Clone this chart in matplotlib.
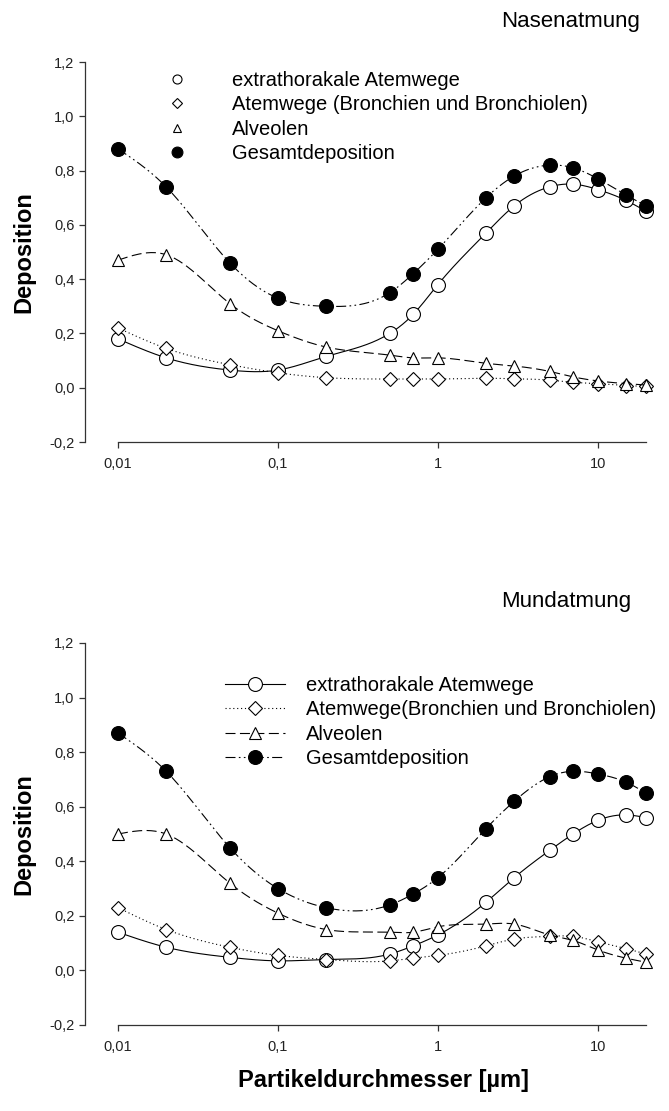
import numpy as np
import matplotlib.pyplot as plt
from matplotlib.lines import Line2D
from matplotlib.ticker import NullLocator

plt.rcParams['font.family'] = ['Liberation Sans', 'DejaVu Sans']

# Partikeldurchmesser in µm
durchmesser = [0.01, 0.02, 0.05, 0.1, 0.2, 0.5, 0.7, 1, 2, 3, 5, 7, 10, 15, 20]

# Nasenatmung
nase_extra = [0.18, 0.11, 0.065, 0.065, 0.115, 0.20, 0.27, 0.38, 0.57, 0.67, 0.74, 0.75, 0.73, 0.69, 0.65]
nase_atemwege = [0.22, 0.145, 0.085, 0.055, 0.037, 0.032, 0.032, 0.032, 0.035, 0.033, 0.028, 0.02, 0.015, 0.008, 0.005]
nase_alveolen = [0.47, 0.49, 0.31, 0.21, 0.15, 0.12, 0.11, 0.11, 0.09, 0.08, 0.06, 0.04, 0.025, 0.015, 0.01]
nase_gesamt = [0.88, 0.74, 0.46, 0.33, 0.30, 0.35, 0.42, 0.51, 0.70, 0.78, 0.82, 0.81, 0.77, 0.71, 0.67]

# Mundatmung
mund_extra = [0.14, 0.085, 0.048, 0.035, 0.04, 0.06, 0.09, 0.13, 0.25, 0.34, 0.44, 0.50, 0.55, 0.57, 0.56]
mund_atemwege = [0.23, 0.15, 0.085, 0.055, 0.04, 0.035, 0.045, 0.055, 0.09, 0.115, 0.125, 0.125, 0.105, 0.08, 0.06]
mund_alveolen = [0.50, 0.50, 0.32, 0.21, 0.15, 0.14, 0.14, 0.16, 0.17, 0.17, 0.13, 0.11, 0.075, 0.045, 0.03]
mund_gesamt = [0.87, 0.73, 0.45, 0.30, 0.23, 0.24, 0.28, 0.34, 0.52, 0.62, 0.71, 0.73, 0.72, 0.69, 0.65]

x_ticks = [0.01, 0.1, 1, 10]
x_labels = ['0,01', '0,1', '1', '10']
y_ticks = [-0.2, 0.0, 0.2, 0.4, 0.6, 0.8, 1.0, 1.2]
y_labels = ['-0,2', '0,0', '0,2', '0,4', '0,6', '0,8', '1,0', '1,2']

# (marker, size, fill, linestyle, legend marker size)
stile = [
    ('o', 10, 'white', '-', 6.5),
    ('D', 7.5, 'white', (0, (1, 2.5)), 5.6),
    ('^', 9, 'white', (0, (9, 4)), 5.8),
    ('o', 10, 'black', (0, (9, 3, 1.5, 3, 1.5, 3)), 7.8),
]


def spline_kurve(x, y, n=400):
    # natuerlicher kubischer Spline in log10(x)
    lx = np.log10(x)
    y = np.asarray(y, float)
    k = len(lx)
    h = np.diff(lx)
    A = np.zeros((k, k))
    b = np.zeros(k)
    A[0, 0] = A[-1, -1] = 1
    for i in range(1, k - 1):
        A[i, i - 1] = h[i - 1]
        A[i, i] = 2 * (h[i - 1] + h[i])
        A[i, i + 1] = h[i]
        b[i] = 6 * ((y[i + 1] - y[i]) / h[i] - (y[i] - y[i - 1]) / h[i - 1])
    M = np.linalg.solve(A, b)
    xs = np.linspace(lx[0], lx[-1], n)
    j = np.clip(np.searchsorted(lx, xs) - 1, 0, k - 2)
    t0, t1 = lx[j], lx[j + 1]
    hh = t1 - t0
    a = (t1 - xs) / hh
    c = (xs - t0) / hh
    ys = a * y[j] + c * y[j + 1] + ((a**3 - a) * M[j] + (c**3 - c) * M[j + 1]) * hh**2 / 6
    return 10**xs, ys


def achsen(ax):
    ax.set_xscale('log')
    ax.set_xlim(0.00622, 20)
    ax.set_ylim(-0.2, 1.2)
    ax.spines[['top', 'right']].set_visible(False)
    ax.spines['bottom'].set_bounds(0.01, 20)
    for s in ['left', 'bottom']:
        ax.spines[s].set_color('#333333')
        ax.spines[s].set_linewidth(0.9)
    ax.set_xticks(x_ticks)
    ax.set_xticklabels(x_labels)
    ax.xaxis.set_minor_locator(NullLocator())
    ax.set_yticks(y_ticks)
    ax.set_yticklabels(y_labels)
    ax.tick_params(direction='out', length=4, width=0.9, colors='#333333',
                   labelcolor='#222222', labelsize=10.5)
    ax.tick_params(axis='x', pad=7)
    ax.tick_params(axis='y', pad=3.5)


def zeichnen(ax, reihen):
    for i, (werte, (m, ms, fc, ls, _)) in enumerate(zip(reihen, stile)):
        xs, ys = spline_kurve(durchmesser, werte)
        ax.plot(xs, ys, color='black', lw=0.8, ls=ls, zorder=2 + 2 * i, clip_on=False)
        ax.plot(durchmesser, werte, ls='none', marker=m, ms=ms, mfc=fc, mec='black',
                mew=0.8, zorder=3 + 2 * i, clip_on=False)


fig = plt.figure(figsize=(6.69, 11.11), dpi=100)
ax1 = fig.add_axes([85 / 669, 1 - 442 / 1111, 561 / 669, 380 / 1111])
ax2 = fig.add_axes([85 / 669, 1 - 1025 / 1111, 561 / 669, 382 / 1111])

achsen(ax1)
achsen(ax2)
zeichnen(ax1, [nase_extra, nase_atemwege, nase_alveolen, nase_gesamt])
zeichnen(ax2, [mund_extra, mund_atemwege, mund_alveolen, mund_gesamt])

# Legende oben: nur Symbole
namen_oben = ['extrathorakale Atemwege', 'Atemwege (Bronchien und Bronchiolen)',
              'Alveolen', 'Gesamtdeposition']
griffe_oben = [Line2D([], [], ls='none', marker=m, ms=lms, mfc=fc, mec='black', mew=0.8)
               for (m, ms, fc, ls, lms) in stile]
ax1.legend(griffe_oben, namen_oben, loc='upper left', bbox_to_anchor=(167 / 669, 1 - 71 / 1111),
           bbox_transform=fig.transFigure, frameon=False, fontsize=14.5, handlelength=1.0,
           handletextpad=2.25, labelspacing=0.27, borderpad=0, borderaxespad=0)

# Legende unten: Linie mit Symbol
namen_unten = ['extrathorakale Atemwege', 'Atemwege(Bronchien und Bronchiolen)',
               'Alveolen', 'Gesamtdeposition']
griffe_unten = [Line2D([], [], color='black', lw=0.8, ls=ls, marker=m, ms=ms, mfc=fc,
                       mec='black', mew=0.8)
                for (m, ms, fc, ls, lms) in stile]
ax2.legend(griffe_unten, namen_unten, loc='upper left', bbox_to_anchor=(225 / 669, 1 - 676 / 1111),
           bbox_transform=fig.transFigure, frameon=False, fontsize=14.5, handlelength=3.0,
           handletextpad=1.0, labelspacing=0.27, borderpad=0, borderaxespad=0)

fig.text(640 / 669, 1 - 22 / 1111, 'Nasenatmung', ha='right', va='center', fontsize=16)
fig.text(631 / 669, 1 - 602 / 1111, 'Mundatmung', ha='right', va='center', fontsize=16)

for mitte in [(62 + 442) / 2, (643 + 1025) / 2]:
    fig.text(24 / 669, 1 - mitte / 1111, 'Deposition', rotation=90, ha='center', va='center',
             fontsize=17, fontweight='bold')

fig.text(384 / 669, 1 - 1080 / 1111, 'Partikeldurchmesser [µm]', ha='center', va='center',
         fontsize=17, fontweight='bold')

fig.savefig('out.png', dpi=100)
